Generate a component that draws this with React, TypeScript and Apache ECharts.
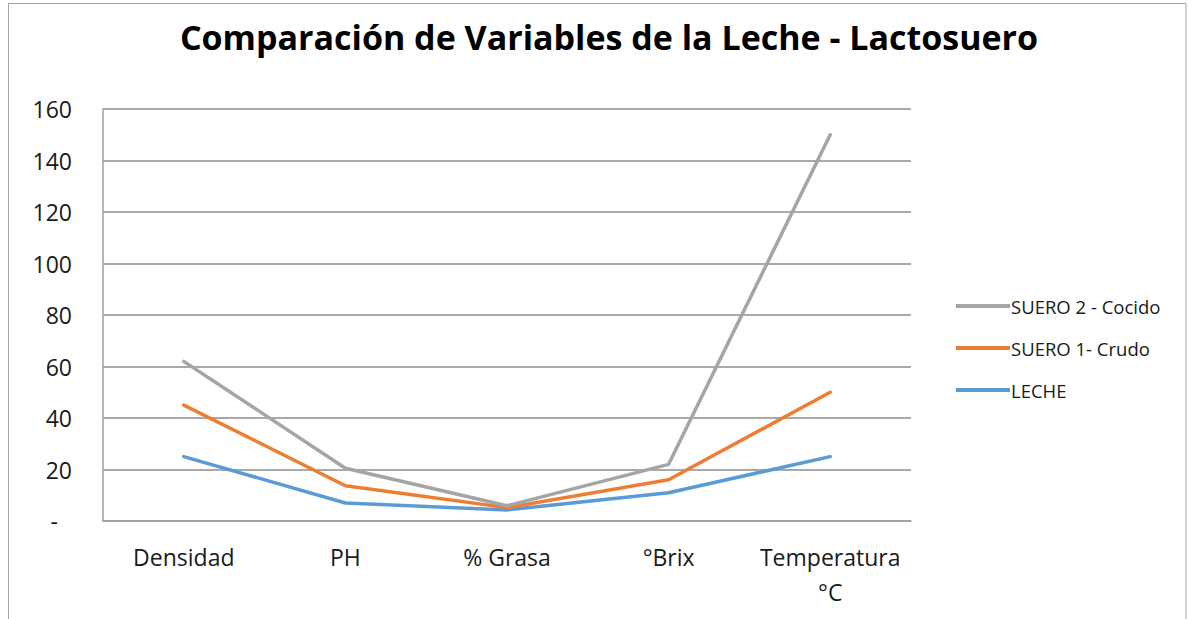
import React, { useEffect, useRef } from "react";
import * as echarts from "echarts";

const categories = ["Densidad", "PH", "% Grasa", "°Brix", "Temperatura\n°C"];
const leche = [25, 7, 4.3, 11, 25];
const suero1 = [45, 13.7, 5.2, 16, 50];
const suero2 = [62, 20.5, 5.9, 22, 150];
const seriesNames = ["LECHE", "SUERO 1- Crudo", "SUERO 2 - Cocido"];
const legendOrder = ["SUERO 2 - Cocido", "SUERO 1- Crudo", "LECHE"];
const colors = ["#5B9BD5", "#ED7D31", "#A5A5A5"];
const title = "Comparación de Variables de la Leche - Lactosuero";

export default function App() {
  const ref = useRef<HTMLDivElement>(null);
  useEffect(() => {
    if (!ref.current) return;
    const chart = echarts.init(ref.current, undefined, { renderer: "svg" });
    const font = "Open Sans";
    const dataSets = [leche, suero1, suero2];
    chart.setOption({
      animation: false,
      backgroundColor: "#ffffff",
      textStyle: { fontFamily: font },
      title: {
        text: title,
        left: 604,
        textAlign: "center",
        top: 15,
        textStyle: { fontFamily: font, fontSize: 34, fontWeight: "bold", color: "#000000" },
      },
      graphic: [
        {
          type: "rect",
          shape: { x: 8.5, y: 3.5, width: 1177.5, height: 700 },
          style: { fill: "none", stroke: "#A6A6A6", lineWidth: 1 },
          silent: true,
        },
      ],
      legend: {
        orient: "vertical",
        left: 951,
        top: 291,
        itemWidth: 54,
        itemHeight: 4,
        itemGap: 22,
        data: legendOrder.map((n) => ({ name: n, icon: "rect" })),
        textStyle: {
          fontFamily: font,
          fontSize: 18.5,
          lineHeight: 20,
          color: "#1a1a1a",
          padding: [0, 0, 0, -4],
        },
      },
      grid: { left: 103, right: 277, top: 109, bottom: 98, containLabel: false },
      xAxis: {
        type: "category",
        data: categories,
        boundaryGap: true,
        axisLine: { show: true, lineStyle: { color: "#A0A0A0", width: 1.5 } },
        axisTick: { show: false },
        axisLabel: {
          margin: 18.5,
          fontSize: 23,
          color: "#1a1a1a",
          fontFamily: font,
          lineHeight: 35,
          interval: 0,
        },
      },
      yAxis: {
        type: "value",
        min: 0,
        max: 160,
        interval: 20,
        axisLine: { show: true, lineStyle: { color: "#A0A0A0", width: 1.5 } },
        axisTick: { show: false },
        splitLine: { show: true, lineStyle: { color: "#8C8C8C", width: 1.5 } },
        axisLabel: {
          margin: 31,
          fontSize: 23,
          color: "#1a1a1a",
          fontFamily: font,
          formatter: (v: number) => (v === 0 ? "{d|-}{s|.}" : String(v)),
          rich: {
            d: { fontSize: 23, fontFamily: font, color: "#1a1a1a" },
            s: { fontSize: 23, fontFamily: font, color: "rgba(0,0,0,0)", width: 14 },
          },
        },
      },
      series: seriesNames.map((name, i) => ({
        name,
        type: "line",
        data: dataSets[i],
        symbol: "none",
        color: colors[i],
        lineStyle: { width: 3.5, color: colors[i], cap: "round", join: "round" },
      })),
    });
    return () => chart.dispose();
  }, []);
  return (
    <div
      ref={ref}
      style={{ position: "absolute", left: 0, top: 0, width: 1188, height: 619 }}
    />
  );
}
